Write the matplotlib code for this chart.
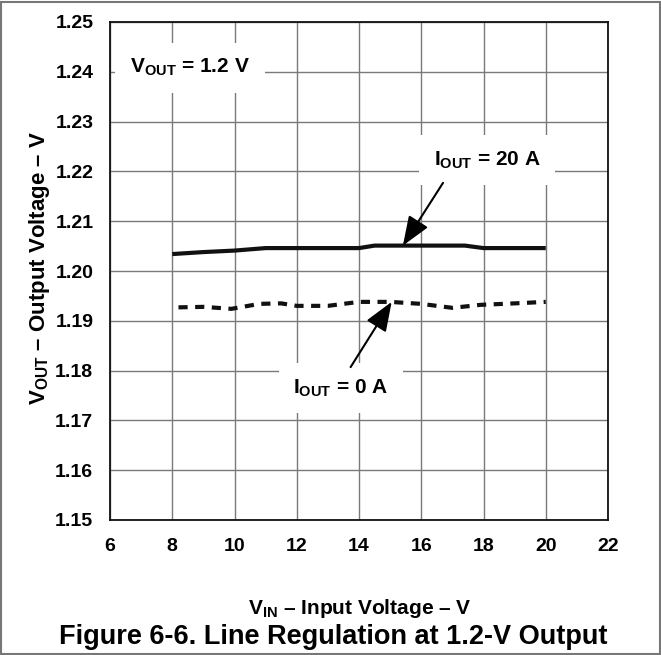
import matplotlib
matplotlib.use('Agg')
import matplotlib.pyplot as plt
from matplotlib.patches import Rectangle

plt.rcParams['font.family'] = ['Liberation Sans', 'DejaVu Sans']
plt.rcParams['mathtext.fontset'] = 'custom'
plt.rcParams['mathtext.rm'] = 'Liberation Sans:bold'
plt.rcParams['mathtext.bf'] = 'Liberation Sans:bold'
plt.rcParams['mathtext.it'] = 'Liberation Sans:bold'

# I_OUT = 20 A
vin_20a = [8.0, 9.0, 10.0, 11.0, 14.0, 14.5, 17.4, 18.0, 20.0]
vout_20a = [1.2034, 1.2038, 1.2041, 1.2046, 1.2046, 1.2051, 1.2051, 1.2046, 1.2046]

# I_OUT = 0 A
vin_0a = [8.2, 9.0, 9.9, 10.8, 11.5, 12.0, 13.0, 14.0, 15.0, 16.0, 17.0, 17.9, 19.0, 20.0]
vout_0a = [1.1927, 1.1928, 1.1924, 1.1934, 1.1935, 1.1930, 1.1930, 1.1938, 1.1938,
           1.1934, 1.1926, 1.1932, 1.1935, 1.1938]

xticks = [6, 8, 10, 12, 14, 16, 18, 20, 22]
yticks = [1.15, 1.16, 1.17, 1.18, 1.19, 1.20, 1.21, 1.22, 1.23, 1.24, 1.25]

fig = plt.figure(figsize=(6.61, 6.55), dpi=100)
fig.patches.append(Rectangle((0.002, 0.002), 0.996, 0.995, transform=fig.transFigure,
                             fill=False, edgecolor='#777777', linewidth=1.5))

ax = fig.add_axes([110 / 661, 1 - 520 / 655, 498 / 661, 498 / 655])
ax.set_xlim(6, 22)
ax.set_ylim(1.15, 1.25)
ax.set_xticks(xticks)
ax.set_yticks(yticks)
ax.set_xticklabels([str(v) for v in xticks])
ax.set_yticklabels([f'{v:.2f}' for v in yticks])
ax.tick_params(length=0, labelsize=14, pad=12)
ax.tick_params(axis='x', pad=13)
for lab in ax.get_xticklabels() + ax.get_yticklabels():
    lab.set_fontweight('bold')
ax.grid(True, color='#7a7a7a', linewidth=1.0)
for s in ax.spines.values():
    s.set_linewidth(1.3)
    s.set_color('#111111')

ax.plot(vin_20a, vout_20a, color='#111111', linewidth=3.0, solid_capstyle='butt', zorder=3)
ax.plot(vin_0a, vout_0a, color='#111111', linewidth=3.0, dashes=(2.2, 1.8), zorder=3)

box = dict(boxstyle='square,pad=0.7', facecolor='white', edgecolor='none')
ax.text(8.57, 1.2408, r'$\mathbf{V_{OUT}}$ = 1.2 V', fontsize=15, fontweight='bold',
        ha='center', va='center', bbox=box, zorder=4)
ax.text(18.11, 1.2223, r'$\mathbf{I_{OUT}}$ = 20 A', fontsize=15, fontweight='bold',
        ha='center', va='center', bbox=box, zorder=4)
ax.text(13.42, 1.1765, r'$\mathbf{I_{OUT}}$ = 0 A', fontsize=15, fontweight='bold',
        ha='center', va='center', bbox=box, zorder=4)

arrow = dict(arrowstyle='-|>,head_length=0.9,head_width=0.35', color='black', lw=1.5,
             mutation_scale=20, shrinkA=0, shrinkB=0)
ax.annotate('', xy=(15.41, 1.2051), xytext=(16.7, 1.2177), arrowprops=arrow, zorder=5)
ax.annotate('', xy=(15.05, 1.1938), xytext=(13.73, 1.1807), arrowprops=arrow, zorder=5)

fig.text(40 / 661, 1 - 268 / 655, r'$\mathbf{V_{OUT}}$ – Output Voltage – V', rotation=90,
         fontsize=16, fontweight='bold', ha='center', va='center')
fig.text(360 / 661, 1 - 608 / 655, r'$\mathbf{V_{IN}}$ – Input Voltage – V',
         fontsize=15, fontweight='bold', ha='center', va='center')
fig.text(333 / 661, 1 - 637 / 655, 'Figure 6-6. Line Regulation at 1.2-V Output',
         fontsize=19.5, fontweight='bold', ha='center', va='center')

fig.savefig('out.png', dpi=100)
